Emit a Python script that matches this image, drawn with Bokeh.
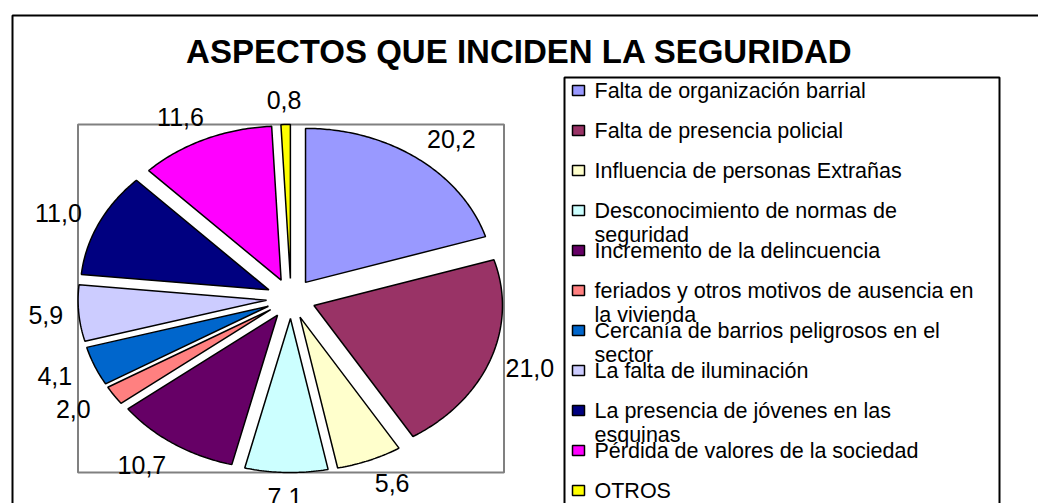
import numpy as np
from bokeh.plotting import figure
from bokeh.models import Range1d
from bokeh.core.properties import value
from bokeh.embed import file_html
from bokeh.resources import INLINE

# ---------------- data ----------------
title_text = "ASPECTOS QUE INCIDEN LA SEGURIDAD"
categories = [
    "Falta de organización barrial",
    "Falta de presencia policial",
    "Influencia de personas Extrañas",
    "Desconocimiento de normas de\nseguridad",
    "Incremento de la delincuencia",
    "feriados y otros motivos de ausencia en\nla vivienda",
    "Cercanía de barrios peligrosos en el\nsector",
    "La falta de iluminación",
    "La presencia de jóvenes en las\nesquinas",
    "Pérdida de valores de la sociedad",
    "OTROS",
]
values = [20.2, 21.0, 5.6, 7.1, 10.7, 2.0, 4.1, 5.9, 11.0, 11.6, 0.8]
colors = ["#9999FF", "#993366", "#FFFFCC", "#CCFFFF", "#660066", "#FF8080",
          "#0066CC", "#CCCCFF", "#000080", "#FF00FF", "#FFFF00"]

# ---------------- layout constants (page pixels) ----------------
W, H = 1038, 503          # canvas size
OFF = 0                   # canvas offset on the page
CX, CY = 290.5, 298.0     # pie centre on the page
RX, RY = 188.5, 154.0     # pie radii in pixels (chart is stretched horizontally)
EXPLODE = 0.13            # explosion as fraction of radius
FONT = "Liberation Sans"


def X(px):
    return (px - CX) / RX


def Y(py):
    return (CY - py) / RY


p = figure(width=W, height=H, output_backend="svg", toolbar_location=None,
           x_range=Range1d(X(OFF), X(OFF + W)), y_range=Range1d(Y(OFF + H), Y(OFF)),
           x_axis_location=None, y_axis_location=None, min_border=0,
           outline_line_color=None, background_fill_color="white",
           border_fill_color="white")
p.grid.visible = False

# outer chart border (only left / top edges fall inside the picture)
p.quad(left=[X(12)], right=[X(3000)], top=[Y(15)], bottom=[Y(3000)],
       fill_color=None, line_color="black", line_width=2)

# plot area box around the exploded pie
p.rect(x=[0], y=[0], width=[2 * (1 + EXPLODE)], height=[2 * (1 + EXPLODE)],
       fill_color=None, line_color="#808080", line_width=2)

# ---------------- pie slices ----------------
vals = np.array(values, dtype=float)
frac = vals / vals.sum()
ends = np.cumsum(frac) * 2 * np.pi
starts = ends - frac * 2 * np.pi
mids = (starts + ends) / 2

xs, ys = [], []
for a0, a1, am in zip(starts, ends, mids):
    ox, oy = EXPLODE * np.sin(am), EXPLODE * np.cos(am)
    t = np.linspace(a0, a1, max(int((a1 - a0) * 80), 4))
    xs.append(np.concatenate([[ox], ox + np.sin(t), [ox]]))
    ys.append(np.concatenate([[oy], oy + np.cos(t), [oy]]))

p.patches(xs, ys, fill_color=colors, line_color="black", line_width=1.5)

# ---------------- value labels ----------------
LR = 1.29
lx = np.sin(mids) * (LR + 0.18 * np.abs(np.cos(mids)))
ly = np.cos(mids) * LR
labels = [f"{v:.1f}".replace(".", ",") for v in values]
p.text(x=lx, y=ly, text=labels, text_align="center", text_baseline="middle",
       text_font=value(FONT), text_font_size="25px", text_color="black")

# ---------------- title ----------------
p.text(x=[X(519)], y=[Y(51)], text=[title_text], text_align="center",
       text_baseline="middle", text_font=value(FONT), text_font_style="bold",
       text_font_size="33px", text_color="black")

# ---------------- legend ----------------
p.quad(left=[X(564)], right=[X(999)], top=[Y(77)], bottom=[Y(3000)],
       fill_color=None, line_color="black", line_width=2)

rows = 90 + 40 * np.arange(len(categories))
p.rect(x=[X(578)] * len(categories), y=Y(rows), width=12, height=10,
       width_units="screen", height_units="screen",
       fill_color=colors, line_color="black", line_width=1.5)
p.text(x=[X(594)] * len(categories), y=Y(rows - 11.5), text=categories,
       text_align="left", text_baseline="top", text_font=value(FONT),
       text_font_size="21.5px", text_line_height=0.98, text_color="black")

open("out.html", "w").write(file_html(p, INLINE))
